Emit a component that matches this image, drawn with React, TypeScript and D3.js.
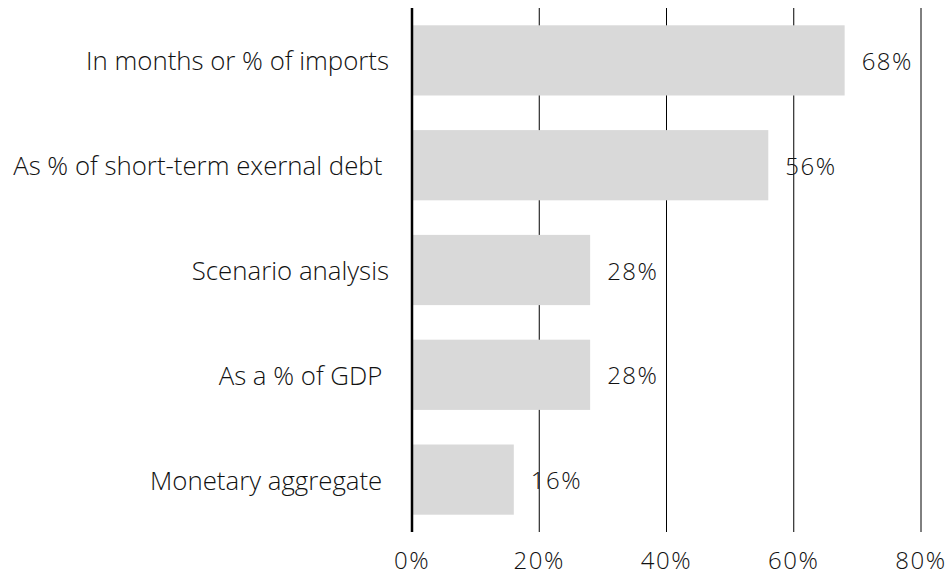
import React from 'react'
import * as d3 from 'd3'

const categories = [
  'In months or % of imports',
  'As % of short-term exernal debt ',
  'Scenario analysis',
  'As a % of GDP ',
  'Monetary aggregate ',
]
const values = [68, 56, 28, 28, 16]
const ticks = [0, 20, 40, 60, 80]

const width = 951
const height = 576
const margin = { top: 8, right: 30, bottom: 44, left: 412 }
const font = "'Open Sans', sans-serif"

export default function App() {
  const x = d3.scaleLinear().domain([0, 80]).range([margin.left, 921])
  const y = d3
    .scaleBand<string>()
    .domain(categories)
    .range([margin.top, height - margin.bottom])
    .paddingInner(0.33)
    .paddingOuter(0.165)

  return (
    <svg
      width={width}
      height={height}
      style={{ position: 'absolute', left: 0, top: 0, fontFamily: font, fontWeight: 300 }}
    >
      {/* gridlines */}
      {ticks.slice(1).map((t) => (
        <line
          key={t}
          x1={x(t)}
          x2={x(t)}
          y1={margin.top}
          y2={height - margin.bottom}
          stroke="#000"
          strokeWidth={1}
        />
      ))}

      {/* bars */}
      {categories.map((c, i) => (
        <rect
          key={c}
          x={x(0)}
          y={y(c)}
          width={x(values[i]) - x(0)}
          height={y.bandwidth()}
          fill="#d9d9d9"
        />
      ))}

      {/* zero axis */}
      <line
        x1={x(0)}
        x2={x(0)}
        y1={margin.top}
        y2={height - margin.bottom}
        stroke="#000"
        strokeWidth={2.5}
      />

      {/* value labels */}
      {categories.map((c, i) => (
        <text
          key={c}
          x={x(values[i]) + 17}
          y={(y(c) ?? 0) + y.bandwidth() / 2}
          dominantBaseline="central"
          fontSize={24}
          letterSpacing={1.5}
          fill="#111"
        >
          {values[i]}%
        </text>
      ))}

      {/* category labels */}
      {categories.map((c) => (
        <text
          key={c}
          x={389}
          y={(y(c) ?? 0) + y.bandwidth() / 2}
          dominantBaseline="central"
          textAnchor="end"
          fontSize={25.8}
          fill="#111"
          style={{ whiteSpace: 'pre' }}
        >
          {c}
        </text>
      ))}

      {/* tick labels */}
      {ticks.map((t) => (
        <text
          key={t}
          x={x(t)}
          y={569}
          textAnchor="middle"
          fontSize={24}
          letterSpacing={1.5}
          fill="#111"
        >
          {t}%
        </text>
      ))}
    </svg>
  )
}
